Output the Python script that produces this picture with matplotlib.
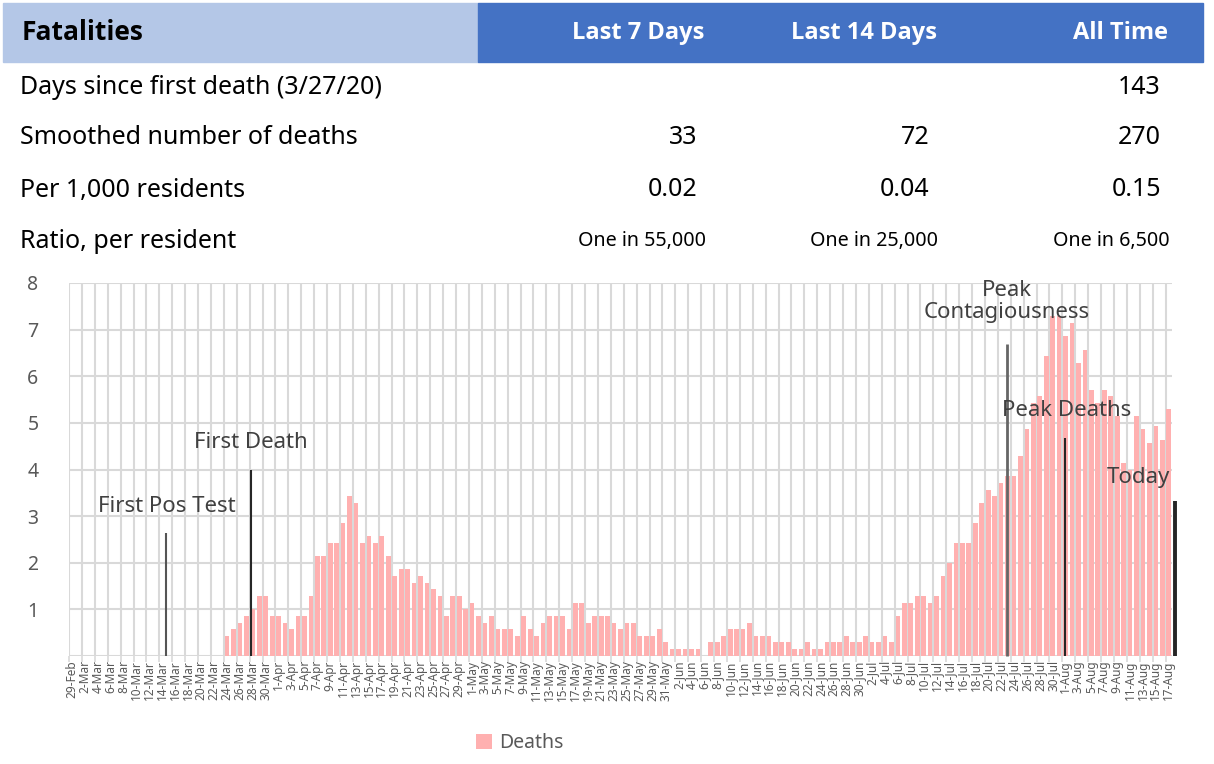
import matplotlib

matplotlib.use("Agg")
import matplotlib.pyplot as plt
import numpy as np
import pandas as pd
from matplotlib.patches import Rectangle

plt.rcParams["font.family"] = ["Noto Sans", "DejaVu Sans"]

W, H = 1214, 764

# --- summary table ---
col_headers = ["Last 7 Days", "Last 14 Days", "All Time"]
row_labels = ["Days since first death (3/27/20)", "Smoothed number of deaths",
              "Per 1,000 residents", "Ratio, per resident"]
row_values = [
    ["", "", "143"],
    ["33", "72", "270"],
    ["0.02", "0.04", "0.15"],
    ["One in 55,000", "One in 25,000", "One in 6,500"],
]

# --- daily smoothed deaths, 29-Feb .. 17-Aug 2020 ---
dates = pd.date_range("2020-02-29", "2020-08-17", freq="D")
deaths = [
    0, 0, 0, 0, 0, 0, 0, 0, 0, 0, 0, 0, 0, 0, 0, 0, 0, 0, 0, 0, 0, 0, 0, 0,
    0.43, 0.57, 0.71, 0.86, 1.00, 1.29, 1.29, 0.86, 0.86, 0.71, 0.57, 0.86,
    0.86, 1.29, 2.14, 2.14, 2.43, 2.43, 2.86, 3.43, 3.29, 2.43, 2.57, 2.43,
    2.57, 2.14, 1.71, 1.86, 1.86, 1.57, 1.71, 1.57, 1.43, 1.29, 0.86, 1.29,
    1.29, 1.00, 1.14, 0.86, 0.71, 0.86, 0.57, 0.57, 0.57, 0.43, 0.86, 0.57,
    0.43, 0.71, 0.86, 0.86, 0.86, 0.57, 1.14, 1.14, 0.71, 0.86, 0.86, 0.86,
    0.71, 0.57, 0.71, 0.71, 0.43, 0.43, 0.43, 0.57, 0.29, 0.14, 0.14, 0.14,
    0.14, 0.14, 0.00, 0.29, 0.29, 0.43, 0.57, 0.57, 0.57, 0.71, 0.43, 0.43,
    0.43, 0.29, 0.29, 0.29, 0.14, 0.14, 0.29, 0.14, 0.14, 0.29, 0.29, 0.29,
    0.43, 0.29, 0.29, 0.43, 0.29, 0.29, 0.43, 0.29, 0.86, 1.14, 1.14, 1.29,
    1.29, 1.14, 1.29, 1.71, 2.00, 2.43, 2.43, 2.43, 2.86, 3.29, 3.57, 3.43,
    3.71, 3.86, 3.86, 4.29, 4.86, 5.43, 5.57, 6.43, 7.29, 7.29, 6.86, 7.14,
    6.29, 6.57, 5.71, 5.43, 5.71, 5.57, 5.14, 4.14, 4.00, 5.14, 4.86, 4.57,
    4.93, 4.64, 5.29,
]

# --- event markers (position in days from 29-Feb, line height) ---
event_labels = ["First Pos Test", "First Death", "Peak\nContagiousness",
                "Peak Deaths", "Today"]
event_days = [14.6, 27.7, 144.9, 153.9, 171.0]
event_tops = [2.64, 4.0, 6.7, 4.68, 3.33]

BAR = "#FFB0B0"
GRID = "#D9D9D9"
TXT = "#595959"


def fx(x):
    return x / W


def fy(y):
    return 1 - y / H


fig = plt.figure(figsize=(W / 100, H / 100), dpi=100)

# header band
fig.patches.append(Rectangle((fx(3), fy(62)), fx(478 - 3), 59 / H,
                             transform=fig.transFigure, color="#B4C7E7", zorder=0))
fig.patches.append(Rectangle((fx(478), fy(62)), fx(1203 - 478), 59 / H,
                             transform=fig.transFigure, color="#4472C4", zorder=0))
fig.text(fx(22), fy(33), "Fatalities", fontsize=19, fontweight="bold",
         family=["Open Sans", "DejaVu Sans"], color="black", va="center", ha="left")
head_x = [(638, "center"), (864, "center"), (1168, "right")]
for (x, ha), lab in zip(head_x, col_headers):
    fig.text(fx(x), fy(33), lab, fontsize=17, fontweight="bold",
             family=["Open Sans", "DejaVu Sans"], color="white", va="center", ha=ha)

row_y = [87, 138, 190, 241]
val_x = [697, 929, 1161]
ratio_x = [706, 938, 1170]
for i, (lab, y) in enumerate(zip(row_labels, row_y)):
    fig.text(fx(20), fy(y), lab, fontsize=18, color="black", va="center", ha="left")
    small = i == len(row_labels) - 1
    for j, v in enumerate(row_values[i]):
        if not v:
            continue
        fig.text(fx(ratio_x[j] if small else val_x[j]), fy(y), v,
                 fontsize=14.2 if small else 18, color="black",
                 va="center", ha="right")

# chart
ax = fig.add_axes([fx(69), fy(656), fx(1172 - 69), (656 - 283) / H])
x = np.arange(len(dates))
ax.bar(x, deaths, width=0.73, color=BAR, label="Deaths", zorder=2)

ax.set_xlim(-0.5, len(dates) - 0.5)
ax.set_ylim(0, 8)
ax.set_yticks(range(0, 9))
ax.set_yticklabels([""] + [str(v) for v in range(1, 9)])
ax.set_xticks(x[::2])
ax.set_xticklabels([f"{d.day}-{d.strftime('%b')}" for d in dates[::2]],
                   rotation=90, fontsize=8.5, color=TXT)
ax.set_xticks(np.arange(-0.5, len(dates), 2), minor=True)
ax.tick_params(axis="x", which="major", length=0, pad=3)
ax.tick_params(axis="x", which="minor", length=4, color=GRID, width=1.2)
ax.tick_params(axis="y", length=0, pad=22, labelsize=14, labelcolor=TXT)
ax.grid(axis="y", color=GRID, linewidth=1.5, zorder=0)
ax.grid(axis="x", which="minor", color=GRID, linewidth=1.5, zorder=0)
for s in ax.spines.values():
    s.set_visible(False)

line_styles = [("#555555", 1.5), ("#262626", 1.5), ("#666666", 2.0),
               ("#262626", 1.5), ("#262626", 2.8)]
for (c, lw), d, top in zip(line_styles, event_days, event_tops):
    ax.vlines(d, 0, top, color=c, linewidth=lw, zorder=3, clip_on=False)

label_pos = [(14.6, 3.2, "center"), (27.7, 4.57, "center"), (144.9, 7.6, "center"),
             (154.2, 5.26, "center"), (170.2, 3.82, "right")]
for lab, (lx, ly, ha) in zip(event_labels, label_pos):
    ax.text(lx, ly, lab, fontsize=16, color="#404040", ha=ha, va="center",
            linespacing=1.1, zorder=4)

fig.legend(loc="center", bbox_to_anchor=(fx(520), fy(743)), frameon=False,
           fontsize=14, labelcolor=TXT, handlelength=0.8, handleheight=0.8,
           handletextpad=0.4)

fig.savefig("out.png", dpi=100)
